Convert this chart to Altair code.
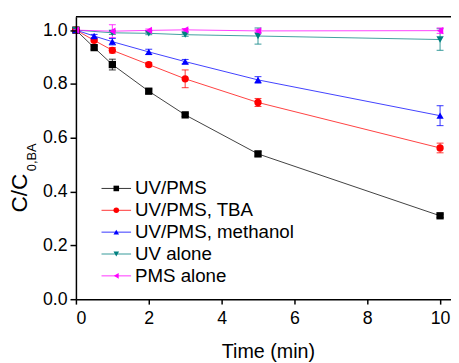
import altair as alt
import pandas as pd

series = ["UV/PMS", "UV/PMS, TBA", "UV/PMS, methanol", "UV alone", "PMS alone"]
colors = ["#000000", "#ff0000", "#0000ff", "#008080", "#ff00ff"]
shapes = ["square", "circle", "triangle-up", "triangle-down", "triangle-left"]

t_uvpms = [0, 0.5, 1, 2, 3, 5, 10]
c_uvpms = [1.0, 0.935, 0.872, 0.773, 0.685, 0.540, 0.310]
e_uvpms = [0, 0.006, 0.02, 0.008, 0.006, 0.008, 0.006]

t_tba = [0, 0.5, 1, 2, 3, 5, 10]
c_tba = [1.0, 0.962, 0.925, 0.872, 0.819, 0.731, 0.562]
e_tba = [0, 0.006, 0.01, 0.008, 0.033, 0.015, 0.018]

t_meoh = [0, 0.5, 1, 2, 3, 5, 10]
c_meoh = [1.0, 0.978, 0.957, 0.919, 0.883, 0.815, 0.682]
e_meoh = [0, 0.006, 0.012, 0.01, 0.008, 0.012, 0.037]

t_uv = [0, 1, 2, 3, 5, 10]
c_uv = [1.0, 0.99, 0.988, 0.983, 0.978, 0.965]
e_uv = [0, 0.006, 0.005, 0.006, 0.03, 0.04]

t_pms = [0, 1, 2, 3, 5, 10]
c_pms = [1.0, 0.996, 0.999, 1.001, 0.997, 0.998]
e_pms = [0, 0.024, 0.005, 0.005, 0.006, 0.01]

x_ticks = list(range(0, 11))
y_ticks = [round(i * 0.1, 1) for i in range(0, 11)]

rows = []
for name, ts, cs, es in zip(series,
                            [t_uvpms, t_tba, t_meoh, t_uv, t_pms],
                            [c_uvpms, c_tba, c_meoh, c_uv, c_pms],
                            [e_uvpms, e_tba, e_meoh, e_uv, e_pms]):
    for t, c, e in zip(ts, cs, es):
        rows.append({"series": name, "t": t, "c": c, "lo": c - e, "hi": c + e})
df = pd.DataFrame(rows)

W, H = 381, 287
FONT = "Liberation Sans"

color_scale = alt.Scale(domain=series, range=colors)
shape_scale = alt.Scale(domain=series, range=shapes)
xs = alt.Scale(domain=[0, 10.3], nice=False, zero=False)
ys = alt.Scale(domain=[0, 1.05], nice=False, zero=False)

x_axis = alt.Axis(values=x_ticks, title="Time (min)",
                  labelExpr="datum.value % 2 == 0 ? datum.label : ''",
                  tickSize={"condition": {"test": "datum.value % 2 == 1", "value": 3}, "value": 5},
                  labelPadding=6, titlePadding=14, titleX=195, zindex=1)
y_axis = alt.Axis(values=y_ticks, title=None,
                  labelExpr="round(datum.value * 10) % 2 == 0 ? format(datum.value, '.1f') : ''",
                  tickSize={"condition": {"test": "round(datum.value * 10) % 2 == 1", "value": 3}, "value": 6},
                  labelPadding=3, zindex=1)

base = alt.Chart(df)

lines = base.mark_line(strokeWidth=1, opacity=0.75).encode(
    x=alt.X("t:Q", scale=xs, axis=x_axis),
    y=alt.Y("c:Q", scale=ys, axis=y_axis),
    color=alt.Color("series:N", scale=color_scale, legend=None),
    detail="series:N",
)

err = base.mark_rule(strokeWidth=1, opacity=0.8).encode(
    x="t:Q", y="lo:Q", y2="hi:Q",
    color=alt.Color("series:N", scale=color_scale, legend=None),
)
cap_lo = base.mark_tick(orient="horizontal", size=7, thickness=1, opacity=0.8).encode(
    x="t:Q", y="lo:Q",
    color=alt.Color("series:N", scale=color_scale, legend=None),
)
cap_hi = base.mark_tick(orient="horizontal", size=7, thickness=1, opacity=0.8).encode(
    x="t:Q", y="hi:Q",
    color=alt.Color("series:N", scale=color_scale, legend=None),
)

points = base.mark_point(filled=True, size=55, opacity=1).encode(
    x="t:Q", y="c:Q",
    color=alt.Color("series:N", scale=color_scale, legend=None),
    shape=alt.Shape("series:N", scale=shape_scale, legend=None),
)

# top frame line
frame = alt.Chart(pd.DataFrame({"a": [0]})).mark_rule(color="black", strokeWidth=1.5).encode(
    x=alt.value(0), x2=alt.value(W), y=alt.value(0)
)

# custom legend
leg = pd.DataFrame({"series": series, "row": list(range(len(series)))})
legbase = alt.Chart(leg).transform_calculate(ly="174.5 + 22.2 * datum.row")
leg_line = legbase.mark_rule(strokeWidth=1, opacity=0.8).encode(
    x=alt.value(26), x2=alt.value(56),
    y=alt.Y("ly:Q", scale=None, axis=None),
    color=alt.Color("series:N", scale=color_scale, legend=None),
)
leg_pt = legbase.mark_point(filled=True, size=32, opacity=1).encode(
    x=alt.value(41),
    y=alt.Y("ly:Q", scale=None, axis=None),
    color=alt.Color("series:N", scale=color_scale, legend=None),
    shape=alt.Shape("series:N", scale=shape_scale, legend=None),
)
leg_txt = legbase.mark_text(align="left", baseline="middle", fontSize=19, font=FONT, color="black").encode(
    x=alt.value(60),
    y=alt.Y("ly:Q", scale=None, axis=None),
    text="series:N",
)

# y title with subscript
ytitle_main = alt.Chart(pd.DataFrame({"s": ["C/C"]})).mark_text(
    angle=270, align="left", baseline="alphabetic", fontSize=23, font=FONT, color="black"
).encode(x=alt.value(-50), y=alt.value(199), text="s:N")
ytitle_sub = alt.Chart(pd.DataFrame({"s": ["0,BA"]})).mark_text(
    angle=270, align="left", baseline="alphabetic", fontSize=13, font=FONT, color="black"
).encode(x=alt.value(-41), y=alt.value(157), text="s:N")

chart = alt.layer(
    lines, err, cap_lo, cap_hi, points, frame, leg_line, leg_pt, leg_txt, ytitle_main, ytitle_sub
).properties(
    width=W, height=H,
    autosize=alt.AutoSizeParams(type="none"),
    padding={"left": 69, "top": 6, "right": 0, "bottom": 61},
).configure_view(strokeWidth=0).configure_axis(
    grid=False, domainColor="black", domainWidth=1.5, tickColor="black", tickWidth=1.5,
    labelFont=FONT, labelFontSize=18, labelColor="black",
    titleFont=FONT, titleFontSize=20, titleFontWeight="normal", titleColor="black",
)

chart.save("out.html", embed_options={"renderer": "svg", "actions": False})
